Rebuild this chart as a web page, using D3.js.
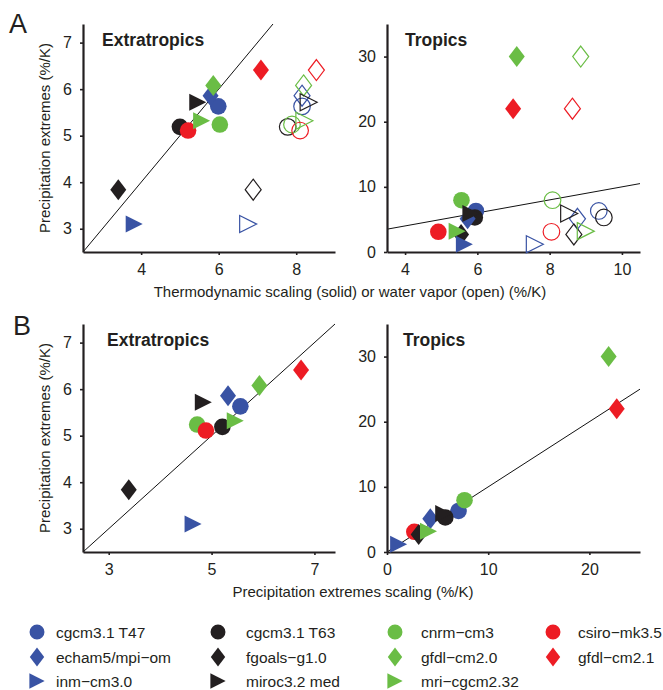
<!DOCTYPE html>
<html>
<head>
<meta charset="utf-8">
<script src="https://cdn.jsdelivr.net/npm/d3@7"></script>
<style>
  body { margin: 0; background: #fff; }
  svg { font-family: "Liberation Sans", Arial, Helvetica, sans-serif; }
</style>
</head>
<body>
<div id="chart"></div>
<script>
// Models, in legend order
const models = ['cgcm3.1 T47', 'cgcm3.1 T63', 'cnrm\u2212cm3', 'csiro\u2212mk3.5',
  'echam5/mpi\u2212om', 'fgoals\u2212g1.0', 'gfdl\u2212cm2.0', 'gfdl\u2212cm2.1',
  'inm\u2212cm3.0', 'miroc3.2 med', 'mri\u2212cgcm2.32'];
const modelColors = ['blue', 'black', 'green', 'red', 'blue', 'black', 'green', 'red', 'blue', 'black', 'green'];
const modelShapes = ['circle', 'circle', 'circle', 'circle', 'diamond', 'diamond', 'diamond', 'diamond', 'triangle', 'triangle', 'triangle'];

// Extratropics (%/K)
const extraExtremes = [5.63, 5.19, 5.24, 5.11, 5.86, 3.84, 6.08, 6.41, 3.1, 5.72, 5.32];
const extraThermo   = [5.99, 5.0, 6.03, 5.21, 5.79, 3.41, 5.86, 7.09, 3.82, 5.46, 5.56];
const extraVapor    = [8.15, 7.78, 7.89, 8.1, 8.15, 6.89, 8.19, 8.52, 6.76, 8.32, 8.21];
const extraScaling  = [5.56, 5.21, 4.72, 4.89, 5.32, 3.39, 5.93, 6.74, 4.64, 4.84, 5.46];

// Tropics (%/K)
const tropExtremes = [6.3, 5.3, 7.95, 3.1, 5.1, 2.7, 30, 22, 1.2, 5.9, 3.2];
const tropThermo   = [5.96, 5.93, 5.56, 4.92, 5.73, 5.55, 7.09, 6.99, 5.64, 5.82, 5.44];
const tropVapor    = [9.36, 9.5, 8.08, 8.05, 8.77, 8.67, 8.86, 8.63, 7.59, 8.54, 9.0];
const tropScaling  = [7.07, 5.76, 7.66, 2.7, 4.28, 3.13, 21.9, 22.7, 1.15, 5.6, 4.1];

// Tick values
const extraYTicks = [3, 4, 5, 6, 7];
const tropYTicks = [0, 10, 20, 30];
const thermoXTicks = [4, 6, 8];
const tropThermoXTicks = [4, 6, 8, 10];
const extraScalingXTicks = [3, 5, 7];
const tropScalingXTicks = [0, 10, 20];

const colorMap = { blue: '#3953a4', black: '#231f20', green: '#6abd45', red: '#ed1c24' };

const width = 663, height = 690;
const svg = d3.select('#chart').append('svg')
  .attr('width', width)
  .attr('height', height);

// marker path centred on 0,0
function markerPath(shape, s) {
  if (shape === 'circle') {
    const r = 8.3 * s;
    return `M${r},0A${r},${r} 0 1,1 ${-r},0A${r},${r} 0 1,1 ${r},0Z`;
  }
  if (shape === 'diamond') {
    const w = 8 * s, h = 10.5 * s;
    return `M0,${-h}L${w},0L0,${h}L${-w},0Z`;
  }
  const w = 8.5 * s, h = 8.5 * s;
  return `M${-w},${-h}L${w},0L${-w},${h}Z`;
}

const panels = [
  { xr: [83, 335], yr: [252, 24], xd: [2.5, 9], yd: [2.5, 7.4], xt: thermoXTicks, yt: extraYTicks,
    title: 'Extratropics', tx: 102, ty: 46, y: extraExtremes, solid: extraThermo, open: extraVapor, yLabel: true },
  { xr: [387, 640], yr: [252, 24], xd: [3.5, 10.5], yd: [0, 35], xt: tropThermoXTicks, yt: tropYTicks,
    title: 'Tropics', tx: 405, ty: 46, y: tropExtremes, solid: tropThermo, open: tropVapor, yLabel: false },
  { xr: [83, 335], yr: [552, 324], xd: [2.5, 7.4], yd: [2.5, 7.4], xt: extraScalingXTicks, yt: extraYTicks,
    title: 'Extratropics', tx: 107, ty: 346, y: extraExtremes, solid: extraScaling, open: null, yLabel: true },
  { xr: [387, 640], yr: [552, 324], xd: [0, 25], yd: [0, 35], xt: tropScalingXTicks, yt: tropYTicks,
    title: 'Tropics', tx: 403, ty: 346, y: tropExtremes, solid: tropScaling, open: null, yLabel: false }
];

panels.forEach(p => {
  const x = d3.scaleLinear().domain(p.xd).range(p.xr);
  const y = d3.scaleLinear().domain(p.yd).range(p.yr);
  const g = svg.append('g');

  // 1:1 line inside the plot box
  const lo = Math.max(p.xd[0], p.yd[0]);
  const hi = Math.min(p.xd[1], p.yd[1]);
  g.append('line')
    .attr('x1', x(lo)).attr('y1', y(lo))
    .attr('x2', x(hi)).attr('y2', y(hi))
    .attr('stroke', '#111').attr('stroke-width', 1);

  // axes
  const xAxis = g.append('g')
    .attr('transform', `translate(0,${p.yr[0]})`)
    .call(d3.axisBottom(x).tickValues(p.xt).tickFormat(d3.format('d')).tickSize(3).tickSizeOuter(0).tickPadding(9));
  const yAxis = g.append('g')
    .attr('transform', `translate(${p.xr[0]},0)`)
    .call(d3.axisLeft(y).tickValues(p.yt).tickFormat(d3.format('d')).tickSize(3).tickSizeOuter(0).tickPadding(8));
  [xAxis, yAxis].forEach(a => {
    a.select('.domain').attr('stroke', '#231f20').attr('stroke-width', 2.2);
    a.selectAll('.tick line').attr('stroke', '#231f20').attr('stroke-width', 1.6);
    a.selectAll('.tick text').attr('fill', '#231f20').style('font-size', '16px')
      .style('font-family', '"Liberation Sans", Arial, sans-serif');
  });

  // open markers (water vapor)
  if (p.open) {
    g.selectAll('.open')
      .data(models.map((m, i) => i))
      .enter().append('path')
      .attr('d', i => markerPath(modelShapes[i], 1))
      .attr('transform', i => `translate(${x(p.open[i])},${y(p.y[i])})`)
      .attr('fill', 'none')
      .attr('stroke', i => colorMap[modelColors[i]])
      .attr('stroke-width', 1.2);
  }

  // solid markers
  g.selectAll('.solid')
    .data(models.map((m, i) => i))
    .enter().append('path')
    .attr('d', i => markerPath(modelShapes[i], 1))
    .attr('transform', i => `translate(${x(p.solid[i])},${y(p.y[i])})`)
    .attr('fill', i => colorMap[modelColors[i]]);

  // panel title
  g.append('text')
    .attr('x', p.tx).attr('y', p.ty)
    .style('font-size', '17.5px').style('font-weight', 'bold')
    .attr('fill', '#231f20')
    .text(p.title);

  if (p.yLabel) {
    const cy = (p.yr[0] + p.yr[1]) / 2;
    g.append('text')
      .attr('transform', `translate(50,${cy})rotate(-90)`)
      .attr('text-anchor', 'middle')
      .style('font-size', '15px')
      .attr('fill', '#231f20')
      .text('Precipitation extremes (%/K)');
  }
});

// panel letters
svg.append('text').attr('x', 9).attr('y', 33).style('font-size', '27px').attr('fill', '#231f20').text('A');
svg.append('text').attr('x', 13).attr('y', 335).style('font-size', '27px').attr('fill', '#231f20').text('B');

// x axis titles
svg.append('text').attr('x', 350).attr('y', 297).attr('text-anchor', 'middle')
  .style('font-size', '15px').attr('fill', '#231f20')
  .text('Thermodynamic scaling (solid) or water vapor (open) (%/K)');
svg.append('text').attr('x', 353).attr('y', 597).attr('text-anchor', 'middle')
  .style('font-size', '15px').attr('fill', '#231f20')
  .text('Precipitation extremes scaling (%/K)');

// legend
const legendMarkX = [37, 218, 395, 553];
const legendTextX = [56, 246, 421, 578];
const legendRowY = [632, 657, 681];
const legend = svg.append('g');
models.forEach((m, i) => {
  const col = i < 8 ? i % 4 : i - 8;
  const row = i < 8 ? Math.floor(i / 4) : 2;
  legend.append('path')
    .attr('d', markerPath(modelShapes[i], 0.9))
    .attr('transform', `translate(${legendMarkX[col]},${legendRowY[row]})`)
    .attr('fill', colorMap[modelColors[i]]);
  legend.append('text')
    .attr('x', legendTextX[col]).attr('y', legendRowY[row] + 5.5)
    .style('font-size', '15.5px').attr('fill', '#231f20')
    .text(m);
});
</script>
</body>
</html>
